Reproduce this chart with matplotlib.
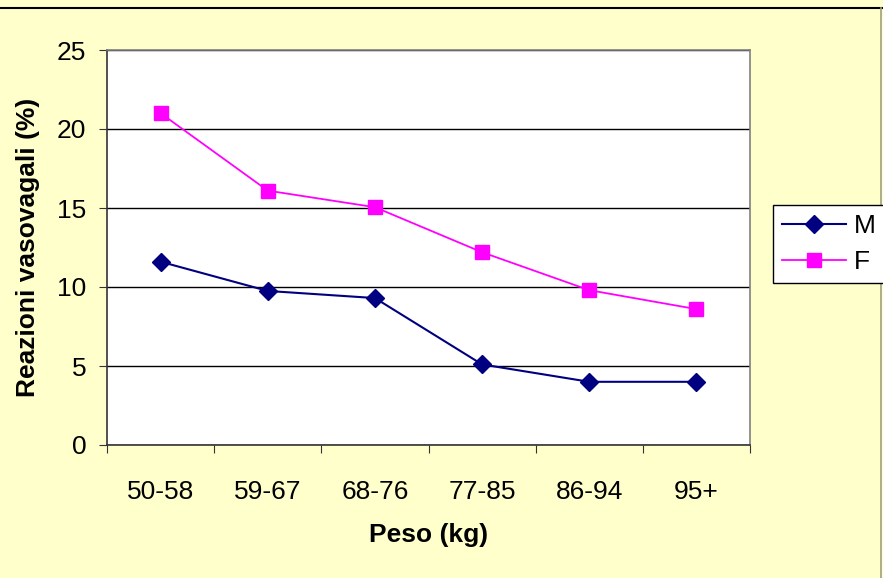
import matplotlib
matplotlib.use("Agg")
import matplotlib.pyplot as plt
from matplotlib.lines import Line2D

categories = ["50-58", "59-67", "68-76", "77-85", "86-94", "95+"]
m_values = [11.6, 9.75, 9.3, 5.1, 4.0, 4.0]
f_values = [21.0, 16.1, 15.05, 12.2, 9.8, 8.6]
y_ticks = [0, 5, 10, 15, 20, 25]

plt.rcParams['font.family'] = ['Liberation Sans', 'DejaVu Sans']

W, H = 883, 578
FS = 19
fig = plt.figure(figsize=(W / 100, H / 100), dpi=100, facecolor="#FFFFCC")
ax = fig.add_axes([107 / W, 1 - 445 / H, 643 / W, 395 / H])
ax.set_facecolor("white")

x = [i + 0.5 for i in range(len(categories))]
ax.plot(x, m_values, color="#000080", lw=1.5, marker="D", ms=9,
        markerfacecolor="#000080", markeredgecolor="#000080", label="M", zorder=3)
ax.plot(x, f_values, color="#FF00FF", lw=1.3, marker="s", ms=10,
        markerfacecolor="#FF00FF", markeredgecolor="#FF00FF", label="F", zorder=3)

ax.set_xlim(0, len(categories))
ax.set_ylim(0, 25)
ax.set_yticks(y_ticks)
ax.set_yticklabels([str(v) for v in y_ticks], fontsize=FS)
ax.set_xticks(range(len(categories) + 1))
ax.set_xticklabels([])
ax.set_xticks(x, minor=True)
ax.set_xticklabels(categories, minor=True, fontsize=FS)
ax.tick_params(axis="x", which="minor", length=0, pad=25)
ax.tick_params(axis="x", which="major", length=6, direction="out", color="#333333")
ax.tick_params(axis="y", length=6, direction="out", color="#333333", pad=9)

ax.yaxis.grid(True, color="black", lw=1)
ax.set_axisbelow(True)
for s in ["top", "right"]:
    ax.spines[s].set_color("#808080")
    ax.spines[s].set_linewidth(1.2)
for s in ["left", "bottom"]:
    ax.spines[s].set_color("#333333")
    ax.spines[s].set_linewidth(1.2)

ax.set_xlabel("Peso (kg)", fontsize=FS, fontweight="bold", labelpad=14)
ax.set_ylabel("Reazioni vasovagali (%)", fontsize=FS, fontweight="bold", labelpad=12)

leg = fig.legend(loc="upper left", bbox_to_anchor=(773 / W, 1 - 205 / H),
                 bbox_transform=fig.transFigure, borderaxespad=0, fontsize=FS,
                 frameon=True, fancybox=False, edgecolor="black", facecolor="white",
                 framealpha=1, handlelength=2.4, borderpad=0.35, labelspacing=0.45,
                 handletextpad=0.3)
leg.get_frame().set_linewidth(1)

fig.add_artist(Line2D([0, 1], [1 - 8 / H, 1 - 8 / H], transform=fig.transFigure,
                      color="black", lw=1.5))
fig.add_artist(Line2D([1 - 2 / W, 1 - 2 / W], [0, 1 - 8 / H], transform=fig.transFigure,
                      color="#A0A080", lw=1.2))

fig.savefig("out.png", dpi=100, facecolor=fig.get_facecolor())
